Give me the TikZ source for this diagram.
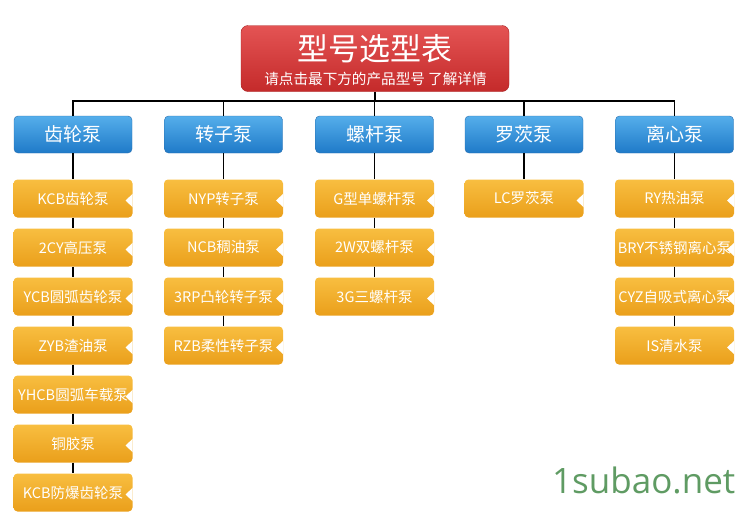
\documentclass[tikz,border=0pt]{standalone}
\usepackage{fontspec}
\usepackage{tikz}
\newfontfamily\cjk{Noto Sans CJK SC}
\newfontfamily\markfont{Open Sans}

\definecolor{redtop}{HTML}{E45454}
\definecolor{redbot}{HTML}{C42A2A}
\definecolor{redline}{HTML}{A82222}
\definecolor{bluetop}{HTML}{55AEEB}
\definecolor{bluebot}{HTML}{1F7AC8}
\definecolor{blueline}{HTML}{2B6FAE}
\definecolor{orangetop}{HTML}{F8BE40}
\definecolor{orangebot}{HTML}{EA9F1B}
\definecolor{markgreen}{HTML}{5F9B63}

\tikzset{
  titlebox/.style={rounded corners=7pt, draw=redline, top color=redtop,
    bottom color=redbot, minimum width=268pt, minimum height=66pt,
    inner sep=0pt},
  titletext/.style={inner sep=0pt, text=white, font=\cjk\fontsize{31}{32}\selectfont},
  hinttext/.style={inner sep=0pt, text=white, font=\cjk\fontsize{14.6}{16}\selectfont},
  groupbox/.style={rounded corners=4pt, draw=blueline, top color=bluetop,
    bottom color=bluebot, minimum width=118pt, minimum height=37pt,
    inner sep=0pt, text=white, font=\cjk\fontsize{19}{20}\selectfont},
  pumpbox/.style={rounded corners=4pt, top color=orangetop,
    bottom color=orangebot, minimum width=119pt, minimum height=38pt,
    inner sep=0pt, text=white, font=\cjk\fontsize{14.5}{16}\selectfont,
    path picture={\fill[white, sharp corners] ([xshift=1pt,yshift=-2pt]path picture bounding box.east)
      ++(0pt,-7.5pt) -- ++(-8pt,7.5pt) -- ++(8pt,7.5pt) -- cycle;}},
  link/.style={draw=black, line width=1.3pt}
}

\begin{document}
\begin{tikzpicture}[x=1pt,y=-1pt]
  \useasboundingbox (0,0) rectangle (749,522);

  % title
  \node[titlebox] (title) at (375,58.5) {};
  \node[titletext] (heading) at (375,48.5) {型号选型表};
  \node[hinttext] (hint) at (375.5,79) {请点击最下方的产品型号 了解详情};
  \coordinate (bus) at (375,101);

  % groups
  \node[groupbox] (gear)   at (73,134.5)    {齿轮泵};
  \node[groupbox] (rotor)  at (223.5,134.5) {转子泵};
  \node[groupbox] (screw)  at (374.5,134.5) {螺杆泵};
  \node[groupbox] (lobe)   at (524,134.5)   {罗茨泵};
  \node[groupbox] (centri) at (674.5,134.5) {离心泵};

  % gear pumps
  \node[pumpbox] (gear1) at (73,198.5) {KCB齿轮泵};
  \node[pumpbox] (gear2) at (73,247.5) {2CY高压泵};
  \node[pumpbox] (gear3) at (73,296.5) {YCB圆弧齿轮泵};
  \node[pumpbox] (gear4) at (73,345.5) {ZYB渣油泵};
  \node[pumpbox] (gear5) at (73,394.5) {YHCB圆弧车载泵};
  \node[pumpbox] (gear6) at (73,443.5) {铜胶泵};
  \node[pumpbox] (gear7) at (73,492.5) {KCB防爆齿轮泵};

  % rotor pumps
  \node[pumpbox] (rotor1) at (223.5,198.5) {NYP转子泵};
  \node[pumpbox] (rotor2) at (223.5,247.5) {NCB稠油泵};
  \node[pumpbox] (rotor3) at (223.5,296.5) {3RP凸轮转子泵};
  \node[pumpbox] (rotor4) at (223.5,345.5) {RZB柔性转子泵};

  % screw pumps
  \node[pumpbox] (screw1) at (374.5,198.5) {G型单螺杆泵};
  \node[pumpbox] (screw2) at (374.5,247.5) {2W双螺杆泵};
  \node[pumpbox] (screw3) at (374.5,296.5) {3G三螺杆泵};

  % lobe pumps
  \node[pumpbox] (lobe1) at (524,198.5) {LC罗茨泵};

  % centrifugal pumps
  \node[pumpbox] (centri1) at (674.5,198.5) {RY热油泵};
  \node[pumpbox] (centri2) at (674.5,247.5) {BRY不锈钢离心泵};
  \node[pumpbox] (centri3) at (674.5,296.5) {CYZ自吸式离心泵};
  \node[pumpbox] (centri4) at (674.5,345.5) {IS清水泵};

  % connectors
  \draw[link] (title) -- (bus);
  \draw[link] (gear) |- (bus) -| (centri);
  \draw[link] (rotor) -- (rotor |- bus);
  \draw[link] (screw) -- (screw |- bus);
  \draw[link] (lobe) -- (lobe |- bus);
  \draw[link] (gear) -- (gear1) -- (gear2) -- (gear3) -- (gear4) -- (gear5) -- (gear6) -- (gear7);
  \draw[link] (rotor) -- (rotor1) -- (rotor2) -- (rotor3) -- (rotor4);
  \draw[link] (screw) -- (screw1) -- (screw2) -- (screw3);
  \draw[link] (lobe) -- (lobe1);
  \draw[link] (centri) -- (centri1) -- (centri2) -- (centri3) -- (centri4);

  \node[text=markgreen, inner sep=0pt, anchor=base west,
    font=\markfont\fontsize{35}{35}\selectfont] (mark) at (552,493) {1subao.net};
\end{tikzpicture}
\end{document}
